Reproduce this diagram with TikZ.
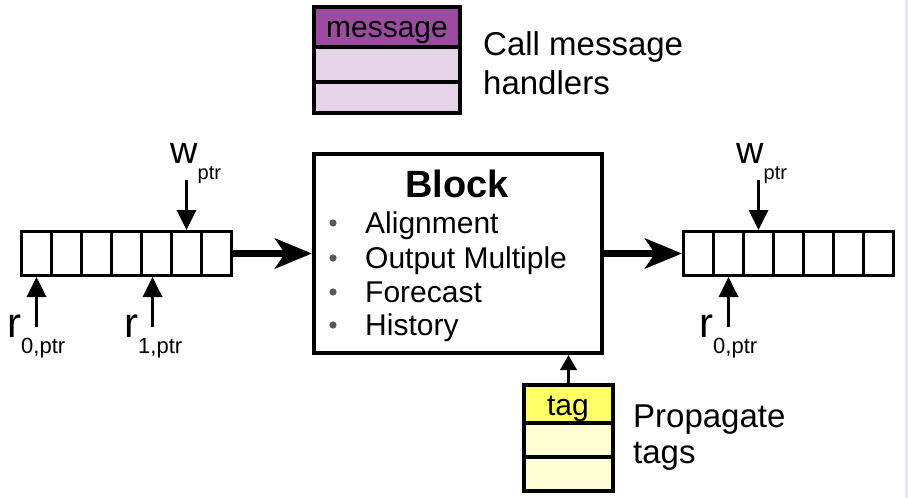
\documentclass[tikz,border=0pt]{standalone}
\usepackage{fontspec}
\setmainfont{Liberation Sans}
\usetikzlibrary{arrows.meta}

\definecolor{msgdark}{RGB}{155,76,160}
\definecolor{msglight}{RGB}{229,211,231}
\definecolor{tagdark}{RGB}{255,255,102}
\definecolor{taglight}{RGB}{255,255,214}
\definecolor{edgegray}{RGB}{230,230,240}

\newcommand{\fs}[1]{\fontsize{#1}{#1}\selectfont}

\tikzset{
  cell/.style={draw,line width=3pt,minimum width=30pt,minimum height=44pt,inner sep=0pt,anchor=north west},
  slot/.style={draw,line width=4pt,inner sep=0pt,anchor=north west},
  ptr/.style={line width=3.5pt,-{Triangle[length=20pt,width=19pt]}},
  flow/.style={line width=7pt,-{Stealth[length=37pt,width=30pt,inset=10pt]}},
  lbl/.style={inner sep=0pt,anchor=base west},
}

\begin{document}
\begin{tikzpicture}[x=1pt,y=-1pt]
\useasboundingbox (0,0) rectangle (908,498);
\fill[edgegray] (905,0) rectangle (908,498);

\foreach \i in {1,...,7} {
  \node[cell] (lbuf\i) at (20+30*\i-30,230) {};
  \node[cell] (rbuf\i) at (682+30*\i-30,230) {};
}

\node[slot,minimum width=288pt,minimum height=199pt] (block) at (312,152) {};
\node[anchor=base,inner sep=0pt] (title) at (457,197) {\fs{38}\bfseries Block};
\foreach \t/\y [count=\k] in {Alignment/233,Output Multiple/268,Forecast/302,History/335} {
  \fill[gray!70!black] (333,\y-10) circle (3.6pt);
  \node[lbl] (item\k) at (365,\y) {\fs{30}\t};
}

\draw[flow] (lbuf7.east) -- (block.west);
\draw[flow] (block.east) -- (rbuf1.west);

\node[lbl] (lw) at (170,163) {\fs{38}w\raisebox{-16pt}{\fs{20}ptr}};
\node[lbl] (lr0) at (7,337) {\fs{42}r\raisebox{-16pt}{\fs{22}0,ptr}};
\node[lbl] (lr1) at (124,337) {\fs{42}r\raisebox{-16pt}{\fs{22}1,ptr}};
\node[lbl] (rw) at (736,163) {\fs{38}w\raisebox{-16pt}{\fs{20}ptr}};
\node[lbl] (rr0) at (699,337) {\fs{42}r\raisebox{-16pt}{\fs{22}0,ptr}};

\draw[ptr] ([yshift=50pt]lbuf6.north) -- (lbuf6.north);
\draw[ptr] ([yshift=-50pt]lbuf1.south) -- (lbuf1.south);
\draw[ptr] ([xshift=-4pt,yshift=-50pt]lbuf5.south) -- ([xshift=-4pt]lbuf5.south);
\draw[ptr] ([yshift=50pt]rbuf3.north) -- (rbuf3.north);
\draw[ptr] ([yshift=-50pt]rbuf2.south) -- (rbuf2.south);

\node[slot,fill=msgdark,minimum width=146pt,minimum height=40pt] (msghead) at (312,5) {};
\node[slot,fill=msglight,minimum width=146pt,minimum height=35pt] (msgrow1) at (312,45) {};
\node[slot,fill=msglight,minimum width=146pt,minimum height=31pt] (msgrow2) at (312,80) {};
\node[anchor=base,inner sep=0pt] (msgtext) at (387,37) {\fs{30}message};
\node[lbl] (calla) at (483,55) {\fs{33}Call message};
\node[lbl] (callb) at (483,94) {\fs{33}handlers};

\node[slot,fill=tagdark,minimum width=89pt,minimum height=38pt] (taghead) at (522,383) {};
\node[slot,fill=taglight,minimum width=89pt,minimum height=34pt] (tagrow1) at (522,421) {};
\node[slot,fill=taglight,minimum width=89pt,minimum height=34pt] (tagrow2) at (522,455) {};
\node[anchor=base,inner sep=0pt] (tagtext) at (568,415) {\fs{30}tag};
\node[lbl] (propa) at (633,427) {\fs{33}Propagate};
\node[lbl] (propb) at (633,463) {\fs{33}tags};

\draw[line width=3.5pt,-{Triangle[length=15pt,width=16pt]}] (taghead.north) -- (taghead.north |- block.south);
\end{tikzpicture}
\end{document}
